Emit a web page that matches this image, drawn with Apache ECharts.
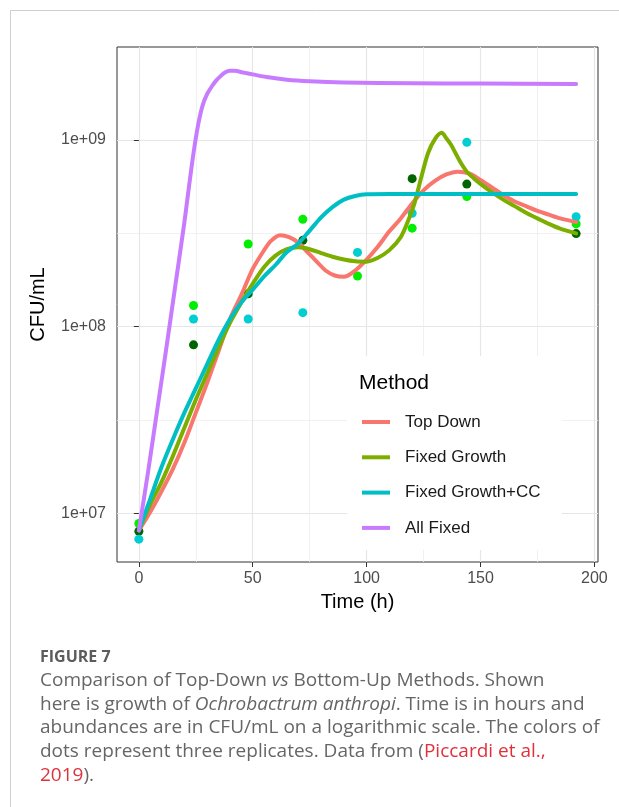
<!DOCTYPE html>
<html>
<head>
<meta charset="utf-8">
<script src="https://cdn.jsdelivr.net/npm/echarts@6/dist/echarts.min.js"></script>
<style>
  html, body { margin: 0; padding: 0; background: #fff; }
  #chart { width: 619px; height: 807px; }
</style>
</head>
<body>
<div id="chart"></div>
<script>
// Observed counts (CFU/mL) for the three replicates
const sampleTimes = [0, 24, 48, 72, 96, 120, 144, 192];
const replicateA = [8.05e6, 8.0e7, 1.5e8, 2.9e8, null, 6.2e8, 5.8e8, 3.15e8];
const replicateB = [8.85e6, 1.3e8, 2.77e8, 3.76e8, 1.87e8, 3.37e8, 4.97e8, 3.55e8];
const replicateC = [7.3e6, 1.1e8, 1.1e8, 1.19e8, 2.5e8, 4.05e8, 9.7e8, 3.88e8];

// Model fits
const topDownTime = [0,5,10,15,20,25,30,35,40,45,50,55,58,62,66,70,74,78,82,86,90,95,100,105,110,115,120,125,130,135,140,145,150,155,160,165,170,175,180,185,192];
const topDownCfu = [8.13e6,1.02e7,1.32e7,1.74e7,2.40e7,3.47e7,5.01e7,7.41e7,1.10e8,1.48e8,2.04e8,2.57e8,2.88e8,3.09e8,3.02e8,2.82e8,2.51e8,2.24e8,2.0e8,1.88e8,1.85e8,2.0e8,2.29e8,2.69e8,3.24e8,3.80e8,4.57e8,5.37e8,6.03e8,6.53e8,6.76e8,6.61e8,6.10e8,5.56e8,5.07e8,4.68e8,4.42e8,4.17e8,3.98e8,3.80e8,3.63e8];

const fixedGrowthTime = [0,5,10,15,20,25,30,35,40,45,50,55,60,65,70,75,80,85,90,95,100,105,110,115,118,121,124,127,130,133,135,137,139,141,144,147,150,155,160,165,170,175,180,185,192];
const fixedGrowthCfu = [8.13e6,1.12e7,1.48e7,2.04e7,2.88e7,4.07e7,5.62e7,7.76e7,1.05e8,1.35e8,1.70e8,2.09e8,2.40e8,2.60e8,2.66e8,2.60e8,2.48e8,2.37e8,2.29e8,2.24e8,2.23e8,2.34e8,2.57e8,3.02e8,3.63e8,4.57e8,6.31e8,8.51e8,1.01e9,1.09e9,1.02e9,9.44e8,8.51e8,7.67e8,6.76e8,6.24e8,5.82e8,5.25e8,4.79e8,4.42e8,4.07e8,3.80e8,3.55e8,3.35e8,3.16e8];

const fixedGrowthCCTime = [0,5,10,15,20,25,30,35,40,45,50,55,60,65,70,75,80,85,90,95,100,110,192];
const fixedGrowthCCCfu = [8.13e6,1.20e7,1.78e7,2.51e7,3.47e7,4.68e7,6.31e7,8.51e7,1.10e8,1.35e8,1.58e8,1.86e8,2.14e8,2.51e8,2.79e8,3.27e8,3.85e8,4.37e8,4.79e8,5.01e8,5.11e8,5.13e8,5.13e8];

const allFixedTime = [0,4,8,12,16,20,22,24,26,28,30,32,34,36,38,40,42,46,50,56,65,75,90,120,150,192];
const allFixedCfu = [8.13e6,1.66e7,3.55e7,7.59e7,1.66e8,3.63e8,5.62e8,8.51e8,1.20e9,1.53e9,1.76e9,1.93e9,2.08e9,2.20e9,2.30e9,2.34e9,2.34e9,2.29e9,2.24e9,2.17e9,2.10e9,2.06e9,2.03e9,2.01e9,2.0e9,1.99e9];

const methodNames = ['Top Down', 'Fixed Growth', 'Fixed Growth+CC', 'All Fixed'];

// Axis breaks
const xMajorTicks = [0, 50, 100, 150, 200];
const xMinorTicks = [25, 75, 125, 175];
const yMajorTicks = [1e7, 1e8, 1e9];
const yMinorTicks = [3.162e7, 3.162e8];

const FONT = "'Liberation Sans', Arial, sans-serif";
const CAPTION_FONT = "'Open Sans', Lato, sans-serif";

const pairs = (xs, ys) => xs.map((x, i) => [x, ys[i]]);
const xRange = { min: -9.6, max: 201.6 };
const yRange = { min: 5.51e6, max: 3.14e9 };

function sci(v) {
  const e = Math.round(Math.log10(v));
  return '1e+' + (e < 10 ? '0' : '') + e;
}

function scatter(name, ys, color) {
  return {
    name, type: 'scatter', data: pairs(sampleTimes, ys).filter(p => p[1] != null),
    symbolSize: 9, itemStyle: { color, opacity: 1 }, silent: true, z: 2
  };
}
function curve(name, xs, ys, color) {
  return {
    name, type: 'line', data: pairs(xs, ys), showSymbol: false, symbol: 'none',
    smooth: 0.3, lineStyle: { color, width: 4, cap: 'round', join: 'round' },
    itemStyle: { color }, silent: true, z: 3
  };
}

const chart = echarts.init(document.getElementById('chart'), null, { renderer: 'canvas' });

const CAP_SIZE = 19;
const rich = {
  n: { fill: '#666666', fontSize: CAP_SIZE, fontFamily: CAPTION_FONT },
  i: { fill: '#666666', fontSize: CAP_SIZE, fontFamily: CAPTION_FONT, fontStyle: 'italic' },
  r: { fill: '#e0313b', fontSize: CAP_SIZE, fontFamily: CAPTION_FONT }
};
const captionLines = [
  '{n|Comparison of Top-Down }{i|vs}{n| Bottom-Up Methods. Shown}',
  '{n|here is growth of }{i|Ochrobactrum anthropi}{n|. Time is in hours and}',
  '{n|abundances are in CFU/mL on a logarithmic scale. The colors of}',
  '{n|dots represent three replicates. Data from (}{r|Piccardi et al.,}',
  '{r|2019}{n|).}'
];
const captionY = [681, 705, 728, 752, 776];

chart.setOption({
  animation: false,
  textStyle: { fontFamily: FONT },
  grid: {
    left: 117, top: 47, width: 481, height: 515,
    show: true, backgroundColor: '#fff', borderColor: '#333', borderWidth: 1
  },
  xAxis: [
    {
      type: 'value', min: xRange.min, max: xRange.max, position: 'bottom',
      axisLine: { show: false },
      axisTick: { show: true, length: 5, customValues: xMajorTicks, lineStyle: { color: '#333', width: 1 } },
      axisLabel: { customValues: xMajorTicks, color: '#4d4d4d', fontSize: 16, margin: 9, fontFamily: FONT },
      splitLine: { show: true, lineStyle: { color: '#e6e6e6', width: 1.2 } },
      name: 'Time (h)', nameLocation: 'middle', nameGap: 30,
      nameTextStyle: { color: '#000', fontSize: 20, fontFamily: FONT }
    },
    {
      type: 'value', min: xRange.min, max: xRange.max, position: 'top',
      axisLine: { show: false },
      axisTick: { show: false, customValues: xMinorTicks },
      axisLabel: { show: false, customValues: xMinorTicks },
      splitLine: { show: true, lineStyle: { color: '#ededed', width: 0.8 } }
    }
  ],
  yAxis: [
    {
      type: 'log', logBase: 10, min: yRange.min, max: yRange.max, position: 'left',
      axisLine: { show: false },
      axisTick: { show: true, length: 5, customValues: yMajorTicks, lineStyle: { color: '#333', width: 1 } },
      axisLabel: { customValues: yMajorTicks, color: '#4d4d4d', fontSize: 16, margin: 11, formatter: sci, fontFamily: FONT },
      splitLine: { show: true, lineStyle: { color: '#e6e6e6', width: 1.2 } },
      name: 'CFU/mL', nameLocation: 'middle', nameGap: 69,
      nameTextStyle: { color: '#000', fontSize: 20, fontFamily: FONT }
    },
    {
      type: 'log', logBase: 10, min: yRange.min, max: yRange.max, position: 'right',
      axisLine: { show: false },
      axisTick: { show: false, customValues: yMinorTicks },
      axisLabel: { show: false, customValues: yMinorTicks },
      splitLine: { show: true, lineStyle: { color: '#ededed', width: 0.8 } }
    }
  ],
  legend: {
    data: methodNames, orient: 'vertical', left: 362, top: 412, padding: 0,
    itemWidth: 28, itemHeight: 4, itemGap: 15.3, icon: 'rect',
    selectedMode: false,
    textStyle: { fontSize: 17, color: '#1a1a1a', lineHeight: 20, padding: [0, 0, 0, 10], fontFamily: FONT }
  },
  graphic: [
    { type: 'rect', z: -10, silent: true, shape: { x: 10.5, y: 10.5, width: 700, height: 900 },
      style: { fill: 'none', stroke: '#cfcfcf', lineWidth: 1 } },
    { type: 'rect', z: 1, silent: true, shape: { x: 347, y: 356, width: 215, height: 194 },
      style: { fill: '#fff' } },
    { type: 'text', z: 5, silent: true, x: 359, y: 383,
      style: { text: 'Method', fill: '#000', font: '21px ' + FONT, verticalAlign: 'middle' } },
    { type: 'text', z: 5, silent: true, x: 40, y: 657,
      style: { text: 'FIGURE 7', fill: '#5c5c5c', font: 'bold 16px ' + CAPTION_FONT, verticalAlign: 'middle' } },
    ...captionLines.map((t, k) => ({
      type: 'text', z: 5, silent: true, x: 40, y: captionY[k],
      style: { text: t, rich, verticalAlign: 'middle', font: CAP_SIZE + 'px ' + CAPTION_FONT, fill: '#666666' }
    }))
  ],
  series: [
    scatter('Replicate A', replicateA, '#006400'),
    scatter('Replicate B', replicateB, '#00EE00'),
    scatter('Replicate C', replicateC, '#00CED1'),
    curve(methodNames[0], topDownTime, topDownCfu, '#F8766D'),
    curve(methodNames[1], fixedGrowthTime, fixedGrowthCfu, '#7CAE00'),
    curve(methodNames[2], fixedGrowthCCTime, fixedGrowthCCCfu, '#00BFC4'),
    curve(methodNames[3], allFixedTime, allFixedCfu, '#C77CFF')
  ]
});
</script>
</body>
</html>
